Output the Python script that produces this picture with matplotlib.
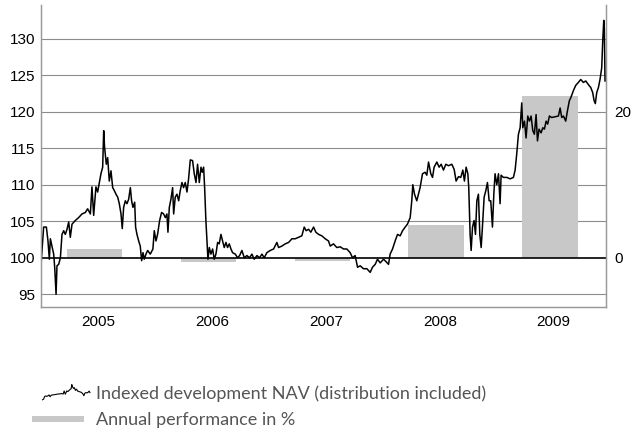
import matplotlib

matplotlib.use("Agg")
import matplotlib.pyplot as plt
import numpy as np
from matplotlib.legend_handler import HandlerBase
from matplotlib.lines import Line2D
from matplotlib.patches import Patch, Rectangle

# Indexed NAV (distribution included)
nav_years = [
    2005.000, 2005.023, 2005.047, 2005.061, 2005.073, 2005.082, 2005.096, 2005.111,
    2005.120, 2005.132, 2005.140, 2005.155, 2005.170, 2005.184, 2005.199, 2005.213,
    2005.228, 2005.243, 2005.257, 2005.272, 2005.301, 2005.330, 2005.360, 2005.389,
    2005.409, 2005.433, 2005.447, 2005.462, 2005.482, 2005.497, 2005.512, 2005.526,
    2005.541, 2005.550, 2005.558, 2005.573, 2005.585, 2005.599, 2005.614, 2005.629,
    2005.643, 2005.658, 2005.673, 2005.687, 2005.702, 2005.713, 2005.725, 2005.740,
    2005.754, 2005.769, 2005.784, 2005.795, 2005.807, 2005.822, 2005.830, 2005.842,
    2005.857, 2005.871, 2005.883, 2005.895, 2005.906, 2005.921, 2005.936, 2005.959,
    2005.982, 2005.994, 2006.009, 2006.023, 2006.041, 2006.058, 2006.076, 2006.091,
    2006.105, 2006.114, 2006.126, 2006.140, 2006.155, 2006.164, 2006.178, 2006.193,
    2006.208, 2006.222, 2006.237, 2006.251, 2006.266, 2006.281, 2006.295, 2006.310,
    2006.330, 2006.345, 2006.360, 2006.374, 2006.389, 2006.404, 2006.415, 2006.427,
    2006.436, 2006.447, 2006.456, 2006.465, 2006.477, 2006.491, 2006.506, 2006.520,
    2006.535, 2006.550, 2006.564, 2006.579, 2006.594, 2006.608, 2006.623, 2006.637,
    2006.652, 2006.667, 2006.681, 2006.705, 2006.725, 2006.743, 2006.763, 2006.784,
    2006.807, 2006.830, 2006.851, 2006.871, 2006.895, 2006.918, 2006.939, 2006.959,
    2006.982, 2007.012, 2007.041, 2007.070, 2007.085, 2007.114, 2007.143, 2007.173,
    2007.202, 2007.231, 2007.260, 2007.289, 2007.310, 2007.327, 2007.348, 2007.368,
    2007.392, 2007.412, 2007.436, 2007.465, 2007.494, 2007.523, 2007.538, 2007.567,
    2007.596, 2007.626, 2007.655, 2007.684, 2007.713, 2007.734, 2007.757, 2007.778,
    2007.801, 2007.830, 2007.860, 2007.889, 2007.909, 2007.933, 2007.953, 2007.977,
    2008.006, 2008.026, 2008.050, 2008.064, 2008.085, 2008.108, 2008.129, 2008.152,
    2008.173, 2008.196, 2008.216, 2008.240, 2008.254, 2008.263, 2008.278, 2008.298,
    2008.313, 2008.327, 2008.348, 2008.371, 2008.386, 2008.401, 2008.421, 2008.436,
    2008.450, 2008.474, 2008.494, 2008.512, 2008.532, 2008.553, 2008.576, 2008.605,
    2008.626, 2008.643, 2008.664, 2008.684, 2008.702, 2008.716, 2008.731, 2008.746,
    2008.754, 2008.766, 2008.775, 2008.787, 2008.801, 2008.813, 2008.825, 2008.839,
    2008.851, 2008.863, 2008.874, 2008.889, 2008.904, 2008.918, 2008.933, 2008.947,
    2008.962, 2008.974, 2008.985, 2009.000, 2009.015, 2009.029, 2009.038, 2009.058,
    2009.088, 2009.117, 2009.146, 2009.161, 2009.175, 2009.190, 2009.205, 2009.219,
    2009.228, 2009.243, 2009.257, 2009.272, 2009.287, 2009.301, 2009.316, 2009.330,
    2009.345, 2009.357, 2009.371, 2009.389, 2009.404, 2009.418, 2009.433, 2009.447,
    2009.462, 2009.482, 2009.512, 2009.541, 2009.556, 2009.570, 2009.585, 2009.605,
    2009.620, 2009.637, 2009.652, 2009.673, 2009.693, 2009.716, 2009.737, 2009.760,
    2009.781, 2009.804, 2009.825, 2009.842, 2009.854, 2009.865, 2009.877, 2009.892,
    2009.906, 2009.921, 2009.930, 2009.939, 2009.944, 2009.950,
]
nav_values = [
    99.1, 104.2, 104.2, 102.3, 99.8, 102.6, 101.6, 100.5,
    98.7, 95.0, 98.9, 99.1, 100.0, 103.2, 103.7, 103.2,
    103.9, 104.9, 102.8, 104.6, 105.1, 105.5, 106.0, 106.2,
    106.7, 106.0, 109.7, 105.8, 109.7, 109.0, 110.3, 111.5,
    112.4, 117.4, 115.1, 112.8, 113.7, 110.5, 111.9, 109.6,
    109.2, 108.7, 108.3, 107.4, 106.0, 104.0, 106.9, 107.8,
    107.4, 108.0, 109.6, 107.8, 106.9, 107.6, 104.2, 103.2,
    102.3, 101.6, 99.6, 100.7, 99.8, 100.5, 101.0, 100.5,
    101.2, 103.7, 102.3, 103.2, 105.1, 106.2, 106.0, 105.5,
    106.0, 103.5, 106.9, 108.0, 109.6, 106.0, 108.3, 108.7,
    107.8, 109.2, 110.3, 109.6, 110.3, 109.0, 110.8, 113.4,
    113.3, 111.5, 110.3, 112.8, 110.3, 112.4, 111.7, 112.4,
    109.6, 105.1, 102.3, 99.8, 101.4, 100.5, 101.2, 99.8,
    100.5, 102.1, 101.9, 103.2, 102.3, 101.4, 102.1, 101.4,
    101.9, 101.2, 100.7, 100.5, 100.0, 100.3, 101.0, 100.0,
    100.3, 100.0, 100.5, 99.8, 100.3, 100.0, 100.5, 100.0,
    100.7, 101.0, 101.2, 102.1, 101.4, 101.6, 101.9, 102.1,
    102.6, 102.6, 102.8, 103.0, 104.2, 103.7, 103.9, 103.5,
    104.2, 103.5, 103.2, 103.0, 102.6, 102.3, 101.6, 101.9,
    101.4, 101.5, 101.2, 101.2, 100.7, 100.0, 100.3, 98.7,
    98.9, 98.5, 98.5, 98.0, 98.7, 99.1, 99.8, 99.3,
    99.8, 99.5, 99.1, 100.5, 101.2, 102.3, 103.2, 103.0,
    103.7, 104.2, 104.6, 105.5, 107.8, 110.0, 108.7, 107.8,
    108.7, 109.6, 111.5, 111.7, 111.3, 113.1, 111.5, 111.0,
    112.4, 113.1, 112.4, 112.8, 112.0, 112.8, 112.6, 112.8,
    112.1, 110.5, 111.1, 111.0, 112.0, 110.5, 112.4, 111.5,
    109.6, 103.2, 101.0, 104.2, 105.1, 103.2, 107.8, 108.7,
    103.2, 101.4, 104.2, 108.3, 109.2, 110.3, 107.8, 107.8,
    104.2, 108.7, 111.5, 110.0, 111.5, 107.4, 111.3, 111.0,
    111.0, 110.8, 111.0, 112.0, 114.2, 116.9, 117.8, 121.2,
    117.8, 118.7, 116.4, 119.4, 118.7, 119.4, 117.4, 116.9,
    119.6, 116.0, 117.6, 117.1, 117.8, 117.6, 118.7, 118.3,
    119.4, 119.2, 119.3, 119.4, 120.5, 119.2, 119.4, 118.7,
    120.1, 121.5, 122.0, 122.9, 123.6, 124.0, 124.4, 124.0,
    124.2, 123.7, 123.3, 122.6, 121.5, 121.1, 122.6, 123.3,
    124.4, 126.0, 129.7, 132.5, 131.3, 124.2,
]

# Annual performance in %
perf_years = [2005, 2006, 2007, 2008, 2009]
perf_values = [1.2, -0.6, -0.5, 4.5, 22.1]

left_ticks = [95, 100, 105, 110, 115, 120, 125, 130]
right_ticks = [0, 20]

LINE_LABEL = "Indexed development NAV (distribution included)"
BAR_LABEL = "Annual performance in %"

BAR_COLOR = "#c8c8c8"
GRID_COLOR = "#8c8c8c"
SPINE_COLOR = "#9a9a9a"
TICK_FONT = "Liberation Sans"
LEGEND_FONT = {"family": "Lato", "size": 13}


class SparkHandler(HandlerBase):
    """Legend handle drawn as a small piece of the NAV series."""

    def __init__(self, xs, ys):
        super().__init__()
        self.xs = np.asarray(xs)
        self.ys = np.asarray(ys)

    def create_artists(self, legend, orig_handle, xdescent, ydescent,
                       width, height, fontsize, trans):
        x0 = 0.18 * width
        x = x0 + (self.xs - self.xs.min()) / np.ptp(self.xs) * (width - x0) - xdescent
        y = (self.ys - self.ys.min()) / np.ptp(self.ys) * height * 1.2 - ydescent - 0.1 * height
        line = Line2D(x, y, color="black", lw=0.8, transform=trans)
        return [line]


class SlimBarHandler(HandlerBase):
    """Flat grey swatch like the one in the reference key."""

    def create_artists(self, legend, orig_handle, xdescent, ydescent,
                       width, height, fontsize, trans):
        h = 0.45 * height
        rect = Rectangle((-xdescent, -ydescent + (height - h) / 2), width * 0.9, h,
                         facecolor=orig_handle.get_facecolor(), edgecolor="none",
                         transform=trans)
        return [rect]


fig = plt.figure(figsize=(6.43, 4.34), dpi=100)
ax = fig.add_axes([0.0638, 0.2933, 0.8782, 0.6952])

nav_x = np.asarray(nav_years)
nav_y = np.asarray(nav_values)

for v in left_ticks:
    if v != 100:
        ax.axhline(v, color=GRID_COLOR, lw=0.8, zorder=0)

# bars on the percent scale: 0 % sits on the 100 index line
ax.bar(np.asarray(perf_years) + 0.47, perf_values, width=0.49, bottom=100,
       color=BAR_COLOR, zorder=1)
ax.axhline(100, color="black", lw=1.2, zorder=2)
ax.plot(nav_x, nav_y, color="black", lw=1.1, zorder=3)

ax.set_xlim(2005.0, 2009.956)
ax.set_ylim(93.3, 134.6)
ax.set_yticks(left_ticks)
ax.set_xticks(np.asarray(perf_years) + 0.5)
ax.set_xticklabels([str(y) for y in perf_years])
ax.tick_params(axis="both", length=0, labelsize=11)
ax.tick_params(axis="y", pad=4)
ax.tick_params(axis="x", pad=6)
for lab in ax.get_xticklabels() + ax.get_yticklabels():
    lab.set_fontfamily(TICK_FONT)

ax2 = ax.twinx()
lo, hi = ax.get_ylim()
ax2.set_ylim(lo - 100, hi - 100)
ax2.set_yticks(right_ticks)
ax2.tick_params(axis="y", length=0, labelsize=11, pad=6)
for lab in ax2.get_yticklabels():
    lab.set_fontfamily(TICK_FONT)

for a in (ax, ax2):
    a.spines["top"].set_visible(False)
    for side in ("left", "right", "bottom"):
        a.spines[side].set_color(SPINE_COLOR)
        a.spines[side].set_linewidth(0.9)

spark = (nav_x >= 2005.15) & (nav_x <= 2005.80)
line_handle = Line2D([], [], color="black")
bar_handle = Patch(facecolor=BAR_COLOR, edgecolor="none")
leg = fig.legend(
    [line_handle, bar_handle],
    [LINE_LABEL, BAR_LABEL],
    loc="upper left",
    bbox_to_anchor=(0.05, 0.113),
    bbox_transform=fig.transFigure,
    frameon=False,
    handlelength=3.2,
    handleheight=0.7,
    handletextpad=0.35,
    labelspacing=0.6,
    borderpad=0,
    borderaxespad=0,
    handler_map={
        line_handle: SparkHandler(nav_x[spark], nav_y[spark]),
        bar_handle: SlimBarHandler(),
    },
    prop=LEGEND_FONT,
)
for t in leg.get_texts():
    t.set_color("#555555")

fig.savefig("out.png", dpi=100)
